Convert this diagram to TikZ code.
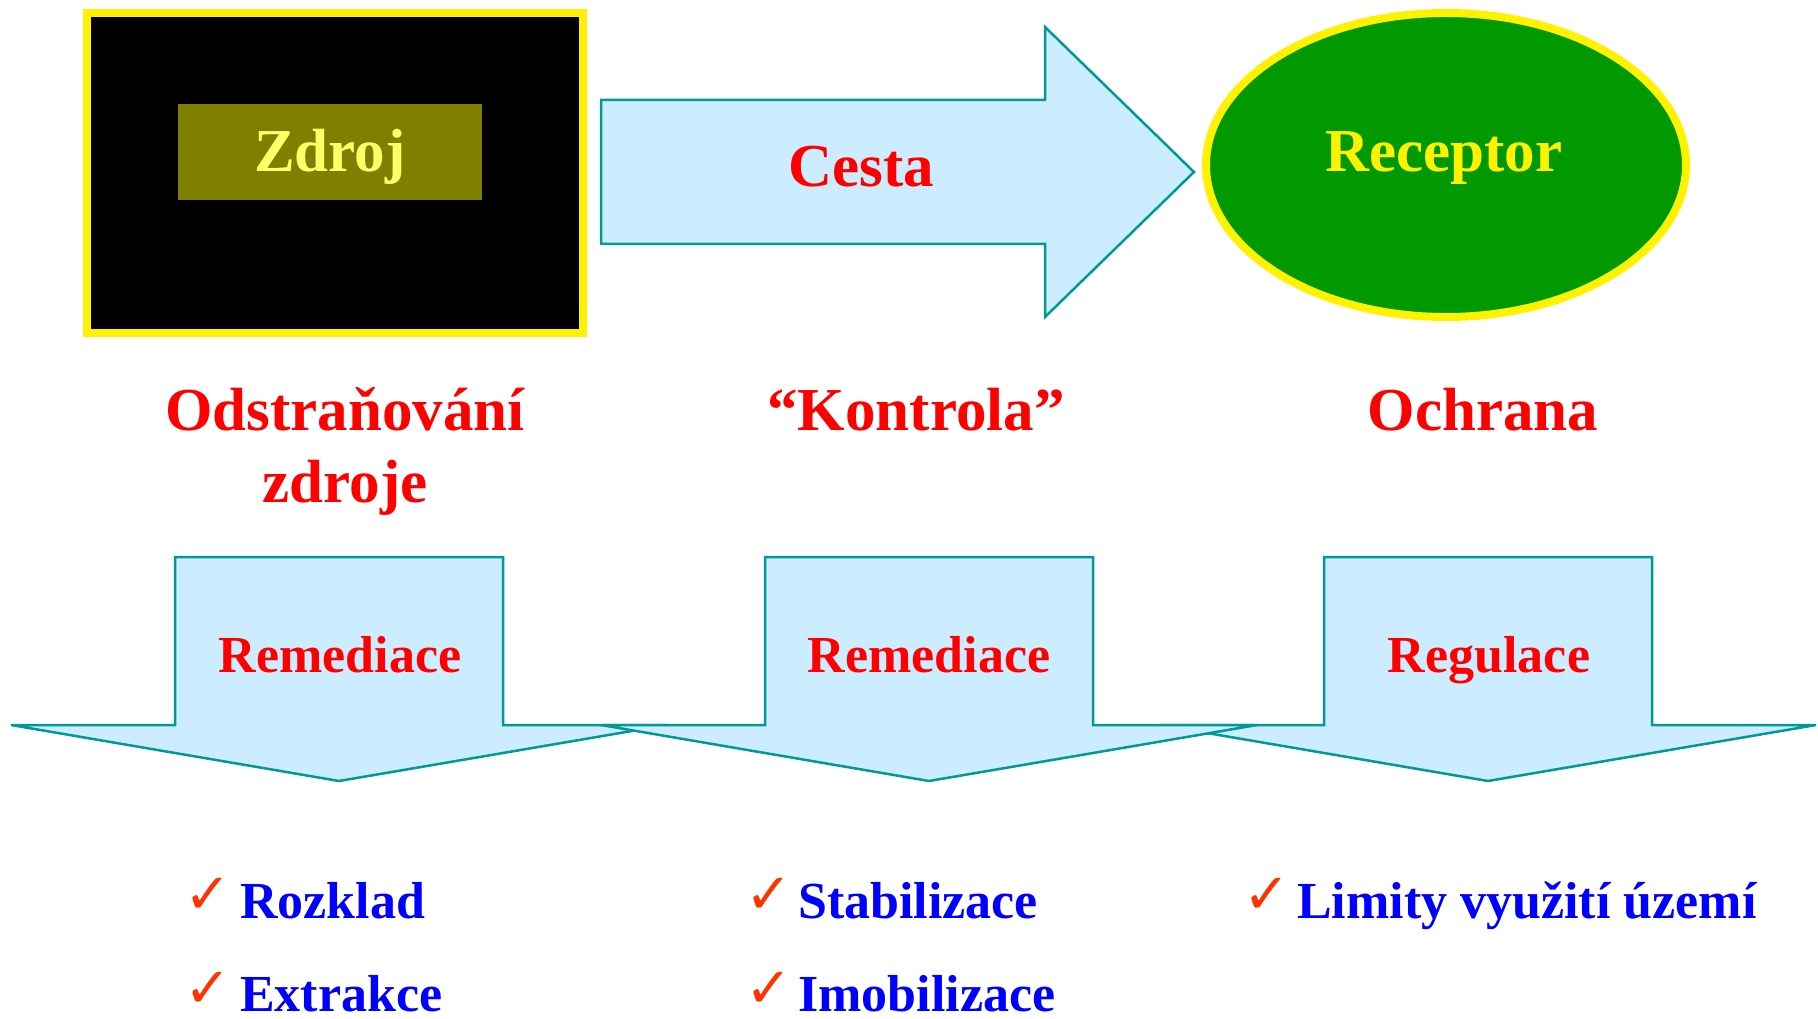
\documentclass[tikz,border=0pt]{standalone}
\usepackage{fontspec}
\setmainfont{Liberation Serif}
\newfontfamily\symfont{DejaVu Sans}
\definecolor{arrowfill}{HTML}{CCECFF}
\definecolor{arrowline}{HTML}{009999}
\definecolor{olivebox}{HTML}{808000}
\definecolor{paleyellow}{HTML}{FFFF66}
\definecolor{recgreen}{HTML}{009900}
\definecolor{tickred}{HTML}{FF3300}
\tikzset{
  flowarrow/.style={fill=arrowfill, draw=arrowline, line width=2.5pt, line join=miter},
  bigred/.style={text=red, font=\bfseries\fontsize{61}{72}\selectfont, inner sep=0pt, anchor=base, align=center},
  midred/.style={text=red, font=\bfseries\fontsize{52}{60}\selectfont, inner sep=0pt, anchor=base},
  itemtext/.style={text=blue, font=\bfseries\fontsize{52}{60}\selectfont, inner sep=0pt, anchor=base west},
  tick/.style={text=tickred, font=\symfont\bfseries\fontsize{56}{60}\selectfont, inner sep=0pt, anchor=base west},
}
\begin{document}
\begin{tikzpicture}[x=1pt, y=-1pt]
\useasboundingbox (0,0) rectangle (1818,1019);

% source box
\draw[yellow, line width=8pt, fill=black] (87,13) rectangle (583,333);
\fill[olivebox] (178,104) rectangle (482,200);
\node[bigred, text=paleyellow] (zdroj) at (330,172) {Zdroj};

% pathway arrow
\draw[flowarrow] (601,100) -- (1045,100) -- (1045,27) -- (1194,172)
  -- (1045,317) -- (1045,244) -- (601,244) -- cycle;
\node[bigred] (cesta) at (861,187) {Cesta};

% receptor
\draw[yellow, line width=8pt, fill=recgreen] (1446,165) ellipse [x radius=240, y radius=152];
\node[bigred, text=yellow] (receptor) at (1444,172) {Receptor};

% measures (base anchor of a two-line node = last line)
\node[bigred] (odstr) at (345,502) {Odstraňování\\zdroje};
\node[bigred] (kontrola) at (916,430) {“Kontrola”};
\node[bigred] (ochrana) at (1483,430) {Ochrana};

% downward arrows (the middle one lies on top)
\foreach \cx in {339,1488,929}{
  \draw[flowarrow] (\cx-164,557) -- (\cx+164,557) -- (\cx+164,725) -- (\cx+328,725)
    -- (\cx,781) -- (\cx-328,725) -- (\cx-164,725) -- cycle;
}
\node[midred] (rem1) at (340,672) {Remediace};
\node[midred] (rem2) at (929,672) {Remediace};
\node[midred] (regul) at (1489,672) {Regulace};

% lists of methods
\node[tick] (t1) at (184,913) {✓};
\node[itemtext] (rozklad) at (240,918) {Rozklad};
\node[tick] (t2) at (184,1007) {✓};
\node[itemtext] (extrakce) at (240,1011) {Extrakce};
\node[tick] (t3) at (745,913) {✓};
\node[itemtext] (stabil) at (798,918) {Stabilizace};
\node[tick] (t4) at (745,1007) {✓};
\node[itemtext] (imobil) at (798,1011) {Imobilizace};
\node[tick] (t5) at (1243,913) {✓};
\node[itemtext] (limity) at (1297,918) {Limity využití území};
\end{tikzpicture}
\end{document}
